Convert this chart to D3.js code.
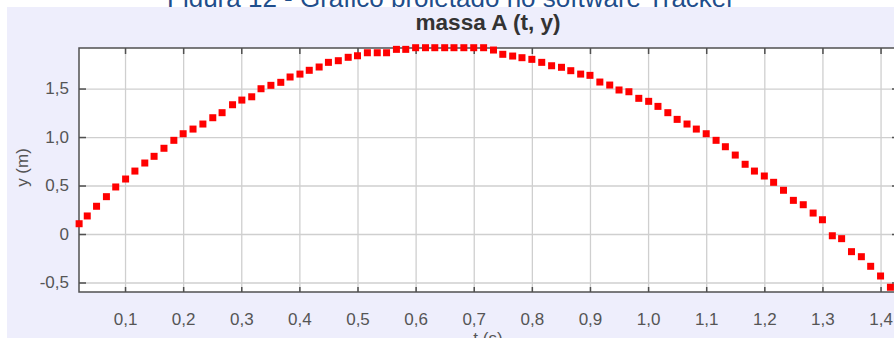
<!DOCTYPE html>
<html>
<head>
<meta charset="utf-8">
<script src="https://cdn.jsdelivr.net/npm/d3@7"></script>
<style>
  body { margin: 0; background: #fff; }
  svg { display: block; font-family: "Liberation Sans", Arial, sans-serif; }
  .tick-label text { fill: #555; font-size: 17px; }
  .grid line { stroke: #cfcfcf; stroke-width: 1.3; }
  .grid path { display: none; }
</style>
</head>
<body>
<div id="chart"></div>
<script>
// massa A: time (s) and height (m)
var tValues = [
    0.021, 0.035, 0.051, 0.068, 0.084, 0.101, 0.117, 0.134, 0.150, 0.167,
    0.184, 0.200, 0.217, 0.234, 0.251, 0.267, 0.285, 0.301, 0.318, 0.334,
    0.351, 0.368, 0.384, 0.401, 0.417, 0.434, 0.450, 0.467, 0.484, 0.500,
    0.517, 0.534, 0.550, 0.567, 0.583, 0.600, 0.617, 0.633, 0.650, 0.666,
    0.683, 0.700, 0.717, 0.734, 0.750, 0.767, 0.783, 0.800, 0.817, 0.834,
    0.851, 0.867, 0.884, 0.900, 0.917, 0.934, 0.950, 0.967, 0.984, 1.001,
    1.017, 1.034, 1.050, 1.067, 1.083, 1.100, 1.117, 1.133, 1.150, 1.167,
    1.183, 1.200, 1.216, 1.233, 1.250, 1.267, 1.284, 1.300, 1.317, 1.333,
    1.350, 1.367, 1.383, 1.400, 1.417
];
var yValues = [
    0.106, 0.186, 0.286, 0.385, 0.485, 0.567, 0.649, 0.732, 0.801, 0.884,
    0.966, 1.034, 1.082, 1.134, 1.199, 1.251, 1.333, 1.381, 1.415, 1.498,
    1.533, 1.564, 1.619, 1.649, 1.688, 1.722, 1.770, 1.787, 1.822, 1.838,
    1.869, 1.869, 1.869, 1.904, 1.904, 1.921, 1.921, 1.921, 1.921, 1.921,
    1.921, 1.921, 1.921, 1.897, 1.853, 1.835, 1.818, 1.801, 1.770, 1.735,
    1.719, 1.684, 1.649, 1.636, 1.567, 1.536, 1.485, 1.467, 1.399, 1.368,
    1.316, 1.251, 1.182, 1.134, 1.082, 1.034, 0.966, 0.900, 0.814, 0.719,
    0.649, 0.598, 0.533, 0.451, 0.347, 0.302, 0.216, 0.147, -0.018, -0.048,
    -0.182, -0.234, -0.333, -0.433, -0.549
];
var xTicks = [0.1, 0.2, 0.3, 0.4, 0.5, 0.6, 0.7, 0.8, 0.9, 1.0, 1.1, 1.2, 1.3, 1.4];
var yTicks = [-0.5, 0, 0.5, 1.0, 1.5];
var xDomain = [0.0208, 1.4283];
var yDomain = [-0.598, 1.918];

var caption = "Figura 12 - Gráfico projetado no software Tracker";
var chartTitle = "massa A (t, y)";
var xLabel = "t (s)";
var yLabel = "y (m)";

var width = 894, height = 338;
var margin = { top: 48, right: -3, bottom: 46, left: 79 };
var innerW = width - margin.left - margin.right,
    innerH = height - margin.top - margin.bottom;

var ptBR = d3.formatLocale({ decimal: ",", thousands: ".", grouping: [3], currency: ["R$", ""], minus: "-" });
var fmt1 = ptBR.format(".1f");

var svg = d3.select("#chart").append("svg")
    .attr("width", width)
    .attr("height", height);

// document caption sits behind the screenshot
svg.append("text")
    .attr("x", 451)
    .attr("y", 6.5)
    .attr("text-anchor", "middle")
    .attr("fill", "#1f4e8c")
    .style("font-size", "26px")
    .text(caption);

svg.append("rect")
    .attr("x", 7).attr("y", 7)
    .attr("width", width - 7).attr("height", height - 7)
    .attr("fill", "#eeeefc");

svg.append("text")
    .attr("x", 488)
    .attr("y", 30)
    .attr("text-anchor", "middle")
    .attr("fill", "#333")
    .style("font-size", "22px")
    .style("font-weight", "bold")
    .attr("textLength", 145)
    .attr("lengthAdjust", "spacingAndGlyphs")
    .text(chartTitle);

var g = svg.append("g")
    .attr("transform", "translate(" + margin.left + "," + margin.top + ")");

var x = d3.scaleLinear().domain(xDomain).range([0, innerW]);
var y = d3.scaleLinear().domain(yDomain).range([innerH, 0]);

g.append("rect")
    .attr("width", innerW)
    .attr("height", innerH)
    .attr("fill", "#fff");

// grid
g.append("g")
    .attr("class", "grid")
    .attr("transform", "translate(0," + innerH + ")")
    .call(d3.axisBottom(x).tickValues(xTicks).tickSize(-innerH).tickFormat(""));
g.append("g")
    .attr("class", "grid")
    .call(d3.axisLeft(y).tickValues(yTicks).tickSize(-innerW).tickFormat(""));

// inward ticks + labels
function styleAxis(sel) {
    sel.select(".domain").remove();
    sel.selectAll(".tick line").attr("stroke", "#505050").attr("stroke-width", 1.5);
}

g.append("g")
    .attr("class", "tick-label")
    .attr("transform", "translate(0," + innerH + ")")
    .call(d3.axisBottom(x).tickValues(xTicks).tickSizeInner(-5).tickSizeOuter(0)
        .tickPadding(21).tickFormat(fmt1))
    .call(styleAxis)
    .selectAll("text").style("font-family", "Liberation Sans, Arial, sans-serif");

g.append("g")
    .call(d3.axisTop(x).tickValues(xTicks).tickSizeInner(-6).tickSizeOuter(0).tickFormat(""))
    .call(styleAxis);

g.append("g")
    .attr("class", "tick-label")
    .call(d3.axisLeft(y).tickValues(yTicks).tickSizeInner(-7).tickSizeOuter(0)
        .tickPadding(10).tickFormat(function(d) { return d === 0 ? "0" : fmt1(d); }))
    .call(styleAxis)
    .selectAll("text").style("font-family", "Liberation Sans, Arial, sans-serif");

g.append("g")
    .attr("transform", "translate(" + innerW + ",0)")
    .call(d3.axisRight(y).tickValues(yTicks).tickSizeInner(-5).tickSizeOuter(0).tickFormat(""))
    .call(styleAxis);

// frame
g.append("rect")
    .attr("width", innerW)
    .attr("height", innerH)
    .attr("fill", "none")
    .attr("stroke", "#505050")
    .attr("stroke-width", 1.5);

// axis titles
g.append("text")
    .attr("x", 488 - margin.left)
    .attr("y", innerH + 52)
    .attr("text-anchor", "middle")
    .attr("fill", "#555")
    .style("font-size", "17px")
    .text(xLabel);

svg.append("text")
    .attr("transform", "translate(28,167.5) rotate(-90)")
    .attr("text-anchor", "middle")
    .attr("fill", "#555")
    .style("font-size", "17px")
    .text(yLabel);

// data points
var points = tValues.map(function(t, i) { return { t: t, y: yValues[i] }; });
var size = 7;

g.append("g")
    .selectAll("rect")
    .data(points)
    .enter()
    .append("rect")
    .attr("x", function(d) { return x(d.t) - size / 2; })
    .attr("y", function(d) { return y(d.y) - size / 2; })
    .attr("width", size)
    .attr("height", size)
    .attr("fill", "#ff0000");
</script>
</body>
</html>
